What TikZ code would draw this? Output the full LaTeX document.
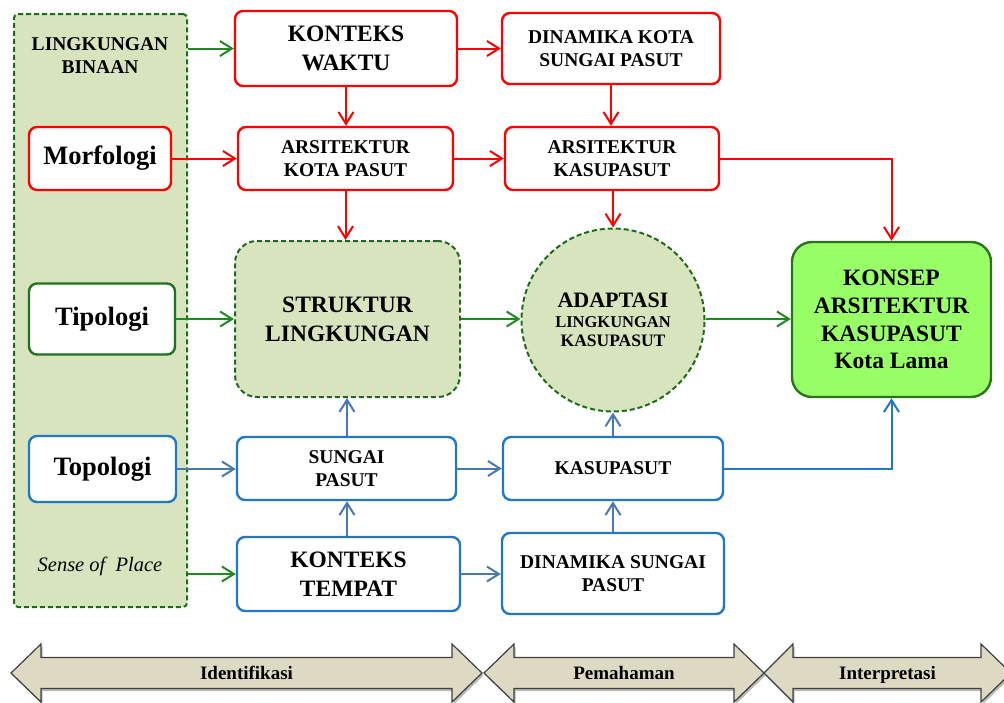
\documentclass[tikz,border=0pt]{standalone}
\usepackage{fontspec}
\setmainfont{Liberation Serif}
\usetikzlibrary{arrows.meta,shapes.geometric,calc}

\definecolor{cred}{HTML}{FF0000}
\definecolor{cgreenline}{HTML}{1F8A1F}
\definecolor{cgreenbox}{HTML}{1D741D}
\definecolor{cdash}{HTML}{1E6B1E}
\definecolor{cpanel}{HTML}{D7E4BD}
\definecolor{cblue}{HTML}{2178C6}
\definecolor{csteel}{HTML}{4A78B0}
\definecolor{ckonsep}{HTML}{99FF66}
\definecolor{ckonsepb}{HTML}{2A7420}
\definecolor{cphase}{HTML}{DDD9C3}
\definecolor{cphaseb}{HTML}{404040}

\newcommand\phasearrow[6]{%
  \fill[gray!55, shift={(1.5,2.5)}] (#1,673) -- (#2,644) -- (#2,657.5) -- (#3,657.5) -- (#3,644) -- (#4,673) -- (#3,702) -- (#3,688.5) -- (#2,688.5) -- (#2,702) -- cycle;
  \draw[phaseshape] (#1,673) -- (#2,644) -- (#2,657.5) -- (#3,657.5) -- (#3,644) -- (#4,673) -- (#3,702) -- (#3,688.5) -- (#2,688.5) -- (#2,702) -- cycle;
  \node[phaselabel, anchor=base] (#6) at ({(#1+#4)/2},679.5) {#5};
}

\tikzset{
  box/.style={rectangle, rounded corners=8pt, line width=2.4pt, fill=white, align=center, inner sep=0pt},
  redbox/.style={box, draw=cred},
  bluebox/.style={box, draw=cblue},
  greenbox/.style={box, draw=cgreenbox},
  big/.style={font=\fontsize{23.5}{29}\selectfont\bfseries},
  mid/.style={font=\fontsize{19.5}{23}\selectfont\bfseries},
  huge/.style={font=\fontsize{26.5}{30}\selectfont\bfseries},
  conn/.style={line width=2pt, -{Straight Barb[length=12pt,width=15pt,line width=2pt]}},
  redc/.style={conn, draw=cred},
  greenc/.style={conn, draw=cgreenline},
  bluec/.style={conn, draw=csteel},
  brightc/.style={conn, draw=cblue},
  phaseshape/.style={fill=cphase, draw=cphaseb, line width=1.2pt, line join=miter},
  phaselabel/.style={font=\fontsize{19}{22}\selectfont\bfseries, inner sep=0pt},
}

\begin{document}
\begin{tikzpicture}[x=1pt,y=-1pt]
\useasboundingbox (0,0) rectangle (1004,702);
\clip (0,0) rectangle (1004,702);

% left panel
\node[rectangle, rounded corners=4pt, fill=cpanel, draw=cdash, line width=2pt, dash pattern=on 5pt off 3pt,
      minimum width=173pt, minimum height=593pt, inner sep=0pt] (panel) at (100.5,310.5) {};
\node[mid, align=center, inner sep=0pt] (binaan) at (100,56) {LINGKUNGAN\\BINAAN};
\node[font=\fontsize{20.5}{22}\selectfont\itshape, inner sep=0pt] (sense) at (100,566) {Sense of\ \ Place};

\node[redbox, huge, minimum width=142pt, minimum height=63pt] (morf) at (100,158.5) {Morfologi};
\node[greenbox, huge, minimum width=146pt, minimum height=71pt] (tipo) at (102,319) {Tipologi};
\node[bluebox, huge, minimum width=147pt, minimum height=66pt] (topo) at (102.5,469) {Topologi};

% column 2
\node[redbox, big, minimum width=222pt, minimum height=75pt] (kw) at (346,48.5) {KONTEKS\\WAKTU};
\node[redbox, mid, minimum width=215pt, minimum height=63pt] (akp) at (345.5,158.5) {ARSITEKTUR\\KOTA PASUT};
\node[rectangle, rounded corners=22pt, fill=cpanel, draw=cdash, line width=2pt, dash pattern=on 5pt off 3pt,
      big, align=center, minimum width=225pt, minimum height=156pt, inner sep=0pt] (str) at (347.5,319) {STRUKTUR\\LINGKUNGAN};
\node[bluebox, mid, minimum width=219pt, minimum height=63pt] (sp) at (346.5,468.5) {SUNGAI\\PASUT};
\node[bluebox, big, minimum width=223pt, minimum height=74pt] (kt) at (348.5,574) {KONTEKS\\TEMPAT};

% column 3
\node[redbox, mid, minimum width=218pt, minimum height=71pt] (dksp) at (611,48.5) {DINAMIKA KOTA\\SUNGAI PASUT};
\node[redbox, mid, minimum width=214pt, minimum height=63pt] (ak) at (612,158.5) {ARSITEKTUR\\KASUPASUT};
\node[circle, fill=cpanel, draw=cdash, line width=2pt, dash pattern=on 5pt off 3pt, minimum size=183pt, inner sep=0pt,
      align=center, font=\fontsize{16.5}{19.5}\selectfont\bfseries] (adapt) at (613,320)
      {{\fontsize{22}{22}\selectfont ADAPTASI}\\LINGKUNGAN\\{\fontsize{17.5}{19}\selectfont KASUPASUT}};
\node[bluebox, mid, minimum width=220pt, minimum height=63pt] (kas) at (613,468.5) {KASUPASUT};
\node[bluebox, mid, minimum width=222pt, minimum height=81pt] (dsp) at (613,573.5) {DINAMIKA SUNGAI\\PASUT};

% konsep
\node[rectangle, rounded corners=20pt, fill=ckonsep, draw=ckonsepb, line width=2.4pt, big, align=center,
      minimum width=199pt, minimum height=155pt, inner sep=0pt, font=\fontsize{23.5}{27.7}\selectfont\bfseries] (konsep) at (891.5,319.5)
      {KONSEP\\ARSITEKTUR\\KASUPASUT\\Kota Lama};

% connectors: green
\draw[greenc] (panel.east |- kw.west) -- (kw.west);
\draw[greenc] (panel.east |- kt.west) -- (kt.west);
\draw[greenc] (tipo.east) -- (str.west);
\draw[greenc] (str.east) -- (str.east -| adapt.west);
\draw[greenc] (adapt.east |- str.east) -- (str.east -| konsep.west);

% red
\draw[redc] (kw.east) -- (dksp.west);
\draw[redc] (morf.east) -- (akp.west);
\draw[redc] (akp.east) -- (ak.west);
\draw[redc] (kw.south) -- (kw.south |- akp.north);
\draw[redc] (akp.south) -- (akp.south |- str.north);
\draw[redc] (dksp.south) -- (dksp.south |- ak.north);
\draw[redc] (ak.south -| adapt.north) -- (adapt.north);
\draw[redc] (ak.east) -| (konsep.north);

% blue
\draw[bluec] (topo.east) -- (topo.east -| sp.west);
\draw[bluec] (sp.east) -- (kas.west);
\draw[bluec] (kt.east) -- (kt.east -| dsp.west);
\draw[bluec] (sp.north -| 347,0) -- (str.south -| 347,0);
\draw[bluec] (kt.north -| 347,0) -- (sp.south -| 347,0);
\draw[bluec] (kas.north) -- (adapt.south);
\draw[bluec] (dsp.north) -- (kas.south);
\draw[brightc] (kas.east) -| (konsep.south);

% phase arrows
\phasearrow{11}{41}{452}{482}{Identifikasi}{ident}
\phasearrow{484}{514}{734}{764}{Pemahaman}{pemah}
\phasearrow{764}{793}{981}{1011}{Interpretasi}{interp}
\end{tikzpicture}
\end{document}
